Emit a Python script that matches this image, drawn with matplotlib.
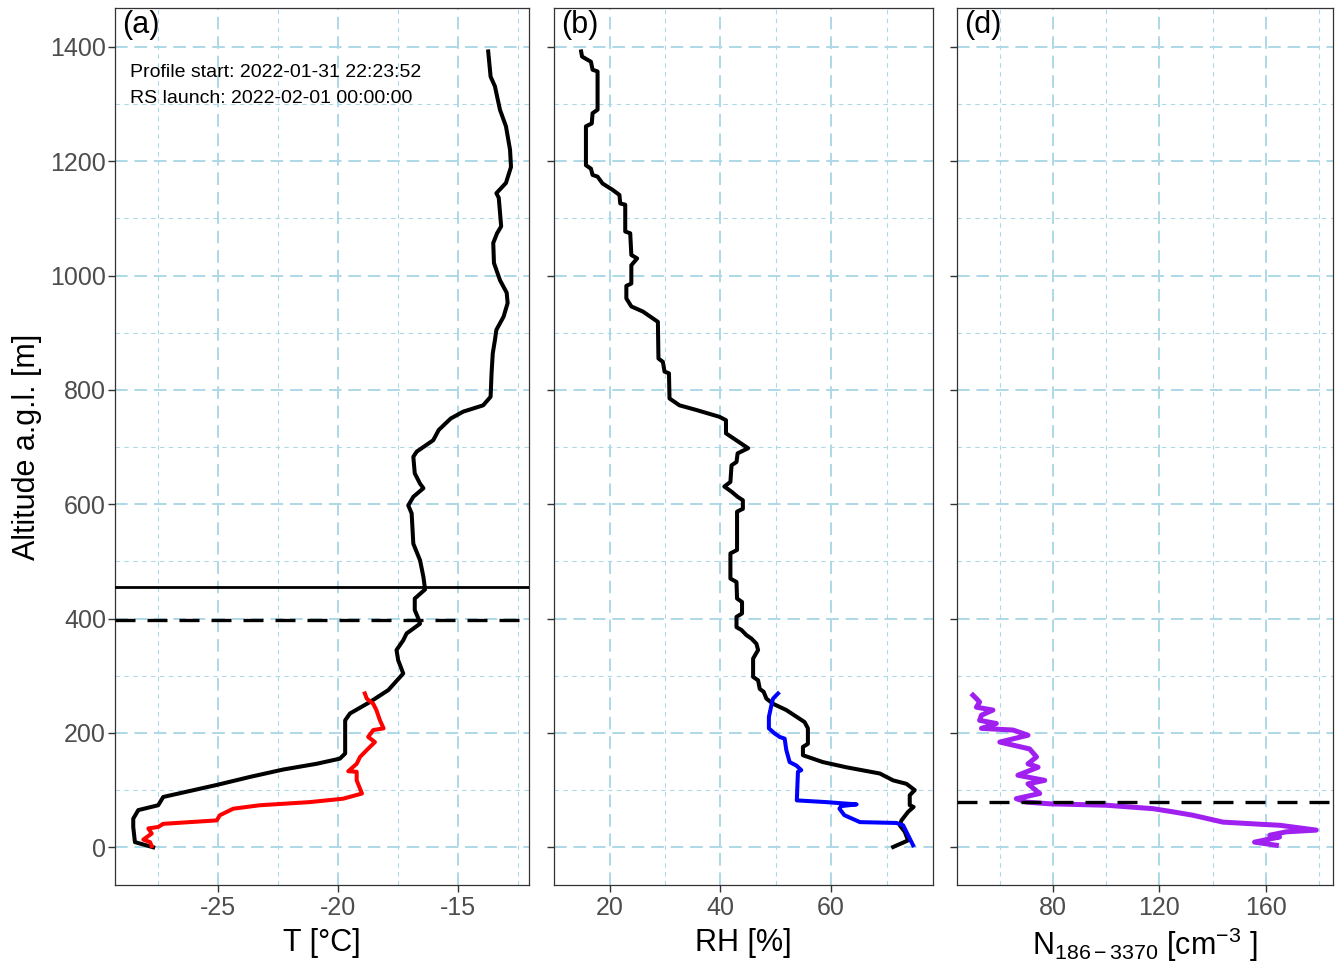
import matplotlib
matplotlib.use("Agg")
import matplotlib.pyplot as plt
from matplotlib.ticker import MultipleLocator

plt.rcParams['font.family'] = ['Liberation Sans', 'DejaVu Sans']
plt.rcParams['mathtext.fontset'] = 'custom'
plt.rcParams['mathtext.rm'] = 'Liberation Sans'
plt.rcParams['mathtext.it'] = 'Liberation Sans:italic'
plt.rcParams['axes.unicode_minus'] = False

# --- (a) temperature, drone profile (black) and radiosonde (red) ---
alt_t = [1392, 1348, 1331, 1290, 1261, 1220, 1190, 1162, 1144, 1136, 1086, 1074,
         1057, 1022, 992, 970, 952, 928, 905, 887, 864, 829, 788, 773, 762, 750,
         730, 712, 692, 683, 654, 636, 628, 613, 598, 584, 531, 502, 473, 451,
         435, 415, 400, 391, 374, 362, 345, 327, 304, 275, 254, 234, 222, 164,
         155, 146, 136, 123, 109, 88, 73.5, 65, 50, 35.5, 9, 0]
temp = [-13.74, -13.64, -13.46, -13.25, -13.0, -12.83, -12.79, -13.0, -13.4, -13.3,
        -13.2, -13.37, -13.53, -13.5, -13.25, -12.97, -12.93, -13.1, -13.4, -13.46,
        -13.55, -13.6, -13.64, -13.95, -14.78, -15.3, -15.8, -16.03, -16.72, -16.86,
        -16.8, -16.58, -16.44, -16.86, -17.07, -16.93, -16.86, -16.58, -16.44, -16.37,
        -16.8, -16.8, -16.65, -16.58, -17.14, -17.28, -17.56, -17.49, -17.28, -17.9,
        -18.67, -19.5, -19.7, -19.7, -19.92, -20.89, -22.28, -23.67, -25.05, -27.28,
        -27.49, -28.32, -28.53, -28.53, -28.46, -27.7]

alt_rs_t = [269, 260, 251, 240, 222, 208, 205, 193, 184, 170, 158, 146, 133, 132,
            117, 94, 85, 79, 73.5, 67.5, 56, 47, 41, 35.5, 33, 24, 13.5, 9, 2]
temp_rs = [-18.88, -18.8, -18.53, -18.4, -18.25, -18.1, -18.53, -18.74, -18.46, -18.8,
           -19.08, -19.22, -19.57, -19.22, -19.22, -19.0, -19.78, -21.17, -23.25,
           -24.36, -24.92, -25.05, -27.28, -27.49, -27.9, -27.76, -28.11, -27.83, -27.76]

# --- (b) relative humidity, drone (black) and radiosonde (blue) ---
alt_rh = [1392, 1383, 1374, 1360, 1357, 1290, 1284, 1266, 1261, 1193, 1187, 1176,
          1173, 1161, 1150, 1141, 1126, 1124, 1077, 1074, 1036, 1030, 1018, 986,
          982, 960, 946, 937, 925, 919, 855, 849, 832, 829, 785, 773, 765, 753,
          747, 724, 698, 689, 674, 668, 639, 631, 622, 613, 607, 592, 587, 520,
          514, 470, 464, 435, 429, 409, 403, 385, 380, 371, 365, 356, 345, 330,
          298, 292, 277, 272, 260, 251, 240, 219, 208, 181, 175.5, 161, 149, 140,
          129, 117, 111, 100, 91, 73.5, 70.5, 62, 47, 38.5, 27, 12, 0.5]
rh = [14.83, 15.0, 16.6, 16.9, 17.8, 17.8, 16.9, 16.75, 15.7, 15.7, 16.6, 16.9,
      17.8, 18.7, 20.5, 21.75, 21.9, 22.8, 22.8, 23.7, 23.9, 24.95, 23.9, 23.9,
      23.0, 23.0, 23.9, 26.0, 27.8, 28.7, 28.8, 29.6, 29.9, 30.7, 30.8, 32.6,
      35.6, 39.8, 41.0, 41.0, 45.0, 43.1, 42.9, 42.0, 41.8, 40.7, 42.0, 43.1,
      44.05, 44.05, 43.0, 43.0, 41.8, 41.8, 42.9, 43.0, 43.9, 43.9, 42.9, 42.9,
      43.8, 44.7, 45.6, 46.5, 46.8, 45.9, 45.9, 46.8, 47.1, 47.8, 48.3, 49.5,
      51.9, 55.2, 55.8, 55.8, 54.9, 54.9, 58.5, 62.7, 68.8, 71.2, 73.6, 75.1,
      74.2, 74.2, 74.9, 73.9, 72.7, 72.4, 73.3, 73.9, 71.2]

alt_rs_rh = [269, 260, 248, 228, 208, 199, 193, 190, 170, 149, 143, 135, 132, 82,
             79, 75, 72, 67.5, 56, 44, 42.5, 38.5, 21, 3.5]
rh_rs = [50.4, 49.5, 49.2, 48.75, 48.75, 49.8, 50.7, 51.6, 51.9, 52.5, 53.7, 54.6,
         54.0, 53.8, 59.1, 64.6, 61.8, 61.5, 62.4, 65.2, 71.8, 73.0, 73.9, 74.8]

# --- (d) particle number concentration ---
alt_n = [266, 260, 254, 245, 240, 231, 222, 216.5, 208, 205, 196, 184, 172, 158,
         146, 140, 126, 117, 111, 94, 85, 79, 76, 73.5, 67.5, 62, 56, 44, 40,
         38.5, 30, 27, 21, 18, 9, 3.5]
n_conc = [49.9, 51.2, 52.4, 51.2, 57.4, 53.1, 52.4, 58.7, 53.1, 65.0, 70.6, 60.0,
          71.2, 73.8, 70.6, 74.4, 66.8, 76.9, 70.6, 75.0, 66.2, 70.0, 78.8, 100.1,
          117.6, 125.1, 132.6, 143.9, 158.9, 165.2, 179.0, 167.7, 161.5, 165.2,
          155.8, 164.0]

hline_solid_a = 455
hline_dash_a = 397
hline_dash_d = 79

fig = plt.figure(figsize=(13.4, 9.69), dpi=100)
W, H = 1340, 969
top, bottom = 8, 885
panels_px = [(115, 529), (554, 933), (957, 1333)]
axes = []
for x0, x1 in panels_px:
    ax = fig.add_axes([x0 / W, 1 - bottom / H, (x1 - x0) / W, (bottom - top) / H])
    axes.append(ax)

grid_col = '#ADD8E6'
dash = (0, (6, 3.6))
for ax in axes:
    ax.set_ylim(-66, 1468)
    ax.yaxis.set_major_locator(MultipleLocator(200))
    ax.yaxis.set_minor_locator(MultipleLocator(100))
    ax.grid(which='major', color=grid_col, ls=(0, (6.5, 3.5)), lw=1.4, zorder=0)
    ax.grid(which='minor', color=grid_col, ls=(0, (4, 4)), lw=0.8, zorder=0)
    ax.set_axisbelow(True)
    ax.tick_params(which='major', length=5, width=1, color='#333333',
                   labelsize=18, labelcolor='#4D4D4D', pad=3)
    ax.tick_params(axis='y', pad=1.5)
    ax.tick_params(which='minor', length=0)
    for sp in ax.spines.values():
        sp.set_color('#333333')
        sp.set_linewidth(0.9)

# panel (a)
ax = axes[0]
ax.set_xlim(-29.29, -12.04)
ax.xaxis.set_major_locator(MultipleLocator(5))
ax.xaxis.set_minor_locator(MultipleLocator(2.5))
ax.plot(temp, alt_t, color='black', lw=2.9, solid_joinstyle='round', zorder=3)
ax.plot(temp_rs, alt_rs_t, color='red', lw=2.9, solid_joinstyle='round', zorder=4)
ax.axhline(hline_solid_a, color='black', lw=2.0, zorder=5)
ax.axhline(hline_dash_a, color='black', lw=2.4, ls=dash, zorder=5)
ax.set_xlabel('T [°C]', fontsize=22, labelpad=6)
ax.set_ylabel('Altitude a.g.l. [m]', fontsize=22, labelpad=6)
ax.text(0.017, 0.981, '(a)', transform=ax.transAxes, fontsize=22, ha='left', va='center')
ax.text(0.036, 0.927, 'Profile start: 2022-01-31 22:23:52', transform=ax.transAxes,
        fontsize=14, ha='left', va='center')
ax.text(0.036, 0.897, 'RS launch: 2022-02-01 00:00:00', transform=ax.transAxes,
        fontsize=14, ha='left', va='center')

# panel (b)
ax = axes[1]
ax.set_xlim(9.93, 78.4)
ax.xaxis.set_major_locator(MultipleLocator(20))
ax.xaxis.set_minor_locator(MultipleLocator(10))
ax.plot(rh, alt_rh, color='black', lw=2.9, solid_joinstyle='round', zorder=3)
ax.plot(rh_rs, alt_rs_rh, color='blue', lw=2.9, solid_joinstyle='round', zorder=4)
ax.set_xlabel('RH [%]', fontsize=22, labelpad=6)
ax.tick_params(axis='y', labelleft=False)
ax.text(0.018, 0.981, '(b)', transform=ax.transAxes, fontsize=22, ha='left', va='center')

# panel (d)
ax = axes[2]
ax.set_xlim(43.9, 185.3)
ax.xaxis.set_major_locator(MultipleLocator(40))
ax.xaxis.set_minor_locator(MultipleLocator(20))
ax.set_xticks([80, 120, 160])
ax.plot(n_conc, alt_n, color='#A020F0', lw=3.6, solid_joinstyle='round', zorder=3)
ax.axhline(hline_dash_d, color='black', lw=2.4, ls=dash, zorder=5)
ax.set_xlabel(r'N$_{186-3370}$ [cm$^{-3}$ ]', fontsize=22, labelpad=4)
ax.tick_params(axis='y', labelleft=False)
ax.text(0.018, 0.981, '(d)', transform=ax.transAxes, fontsize=22, ha='left', va='center')

fig.savefig('out.png', dpi=100)
